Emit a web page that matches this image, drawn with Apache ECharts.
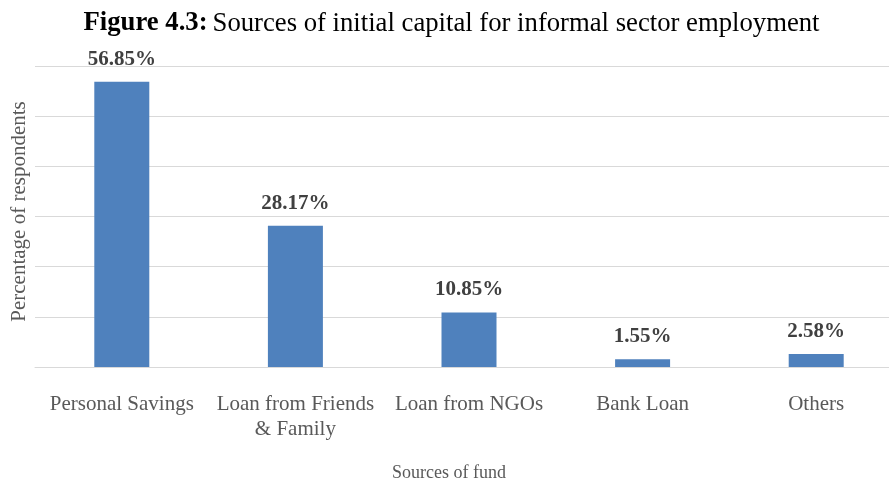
<!DOCTYPE html>
<html>
<head>
<meta charset="utf-8">
<script src="https://cdn.jsdelivr.net/npm/echarts@6/dist/echarts.min.js"></script>
<style>html,body{margin:0;padding:0;background:#fff;overflow:hidden}#c{width:903px;height:481px}</style>
</head>
<body>
<div id="c"></div>
<script>
const categories = ["Personal Savings", "Loan from Friends & Family", "Loan from NGOs", "Bank Loan", "Others"];
const values = [56.85, 28.17, 10.85, 1.55, 2.58];
const yTicks = [0, 10, 20, 30, 40, 50, 60];

const FONT = '"Liberation Serif", "Times New Roman", serif';
const chart = echarts.init(document.getElementById('c'));
chart.setOption({
  backgroundColor: '#fff',
  animation: false,
  title: {
    text: '{b|Figure 4.3:} {r|Sources of initial capital for informal sector employment}',
    left: 'center',
    top: 5,
    textStyle: {
      fontWeight: 'normal',
      rich: {
        b: { fontFamily: FONT, fontSize: 26.7, fontWeight: 'bold', color: '#000' },
        r: { fontFamily: FONT, fontSize: 26.7, fontWeight: 'normal', color: '#000' }
      }
    }
  },
  grid: { left: 35, right: 0, top: 66, bottom: 114, outerBoundsMode: 'none' },
  xAxis: {
    type: 'category',
    data: categories,
    axisTick: { show: false },
    axisLine: { lineStyle: { color: '#d9d9d9', width: 1 } },
    axisLabel: {
      fontFamily: FONT, fontSize: 21, color: '#595959', margin: 25, lineHeight: 25,
      interval: 0,
      formatter: v => v.replace(' & ', '\n& ')
    },
    name: 'Sources of fund',
    nameLocation: 'middle',
    nameGap: 97,
    nameTextStyle: { fontFamily: FONT, fontSize: 18, color: '#595959', padding: [0, 40, 0, 0] }
  },
  yAxis: {
    type: 'value',
    min: yTicks[0],
    max: yTicks[yTicks.length - 1],
    interval: yTicks[1] - yTicks[0],
    axisLabel: { show: false },
    axisLine: { show: false },
    axisTick: { show: false },
    splitLine: { lineStyle: { color: '#d9d9d9', width: 1 } },
    name: 'Percentage of respondents',
    nameLocation: 'middle',
    nameGap: 5,
    nameTextStyle: { fontFamily: FONT, fontSize: 21, color: '#595959', padding: [0, 0, 0, 10] }
  },
  series: [{
    type: 'bar',
    data: values,
    barWidth: 55,
    itemStyle: { color: '#4F81BD' },
    label: {
      show: true,
      position: 'top',
      distance: 12,
      formatter: p => p.value.toFixed(2) + '%',
      fontFamily: FONT, fontSize: 21, fontWeight: 'bold', color: '#404040'
    }
  }]
});
</script>
</body>
</html>
